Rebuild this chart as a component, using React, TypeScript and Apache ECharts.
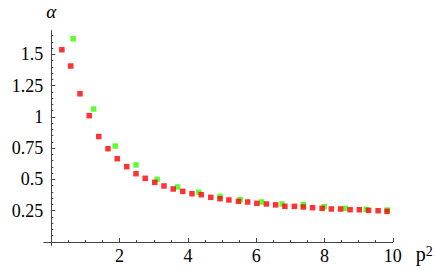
import React, { useEffect, useRef } from "react";
import * as echarts from "echarts";

const redX = [0.31, 0.57, 0.84, 1.11, 1.39, 1.66, 1.93, 2.21, 2.48, 2.75, 3.03, 3.3, 3.57, 3.85, 4.12, 4.39, 4.67, 4.94, 5.2, 5.48, 5.75, 6.02, 6.3, 6.57, 6.84, 7.12, 7.38, 7.65, 7.93, 8.2, 8.47, 8.75, 9.02, 9.29, 9.57, 9.83];
const redY = [1.537, 1.407, 1.185, 1.01, 0.843, 0.746, 0.666, 0.602, 0.546, 0.509, 0.477, 0.448, 0.424, 0.405, 0.386, 0.378, 0.357, 0.346, 0.336, 0.325, 0.32, 0.309, 0.304, 0.297, 0.285, 0.285, 0.28, 0.274, 0.269, 0.264, 0.264, 0.258, 0.258, 0.253, 0.25, 0.245];
const greenX = [0.64, 1.24, 1.87, 2.48, 3.1, 3.7, 4.32, 4.94, 5.53, 6.16, 6.76, 7.38, 7.99, 8.61, 9.22, 9.84];
const greenY = [1.625, 1.063, 0.767, 0.616, 0.501, 0.44, 0.397, 0.365, 0.338, 0.32, 0.304, 0.298, 0.282, 0.269, 0.261, 0.256];

const xTickLabels = [2, 4, 6, 8, 10];
const yTickLabels = [0.25, 0.5, 0.75, 1, 1.25, 1.5];
const yMinorTicks = [0.05, 0.1, 0.15, 0.2, 0.3, 0.35, 0.4, 0.45, 0.55, 0.6, 0.65, 0.7, 0.8, 0.85, 0.9, 0.95, 1.05, 1.1, 1.15, 1.2, 1.3, 1.35, 1.4, 1.45, 1.55, 1.6, 1.65];

const FONT = "Liberation Serif";
const AXIS_COLOR = "#444";

export default function App() {
  const ref = useRef<HTMLDivElement>(null);
  useEffect(() => {
    document.body.style.margin = "0";
    const chart = echarts.init(ref.current!, undefined, { renderer: "svg" });
    const yMax = 1.69;
    chart.setOption({
      animation: false,
      backgroundColor: "#fff",
      textStyle: { fontFamily: FONT },
      grid: [
        { left: 51.3, right: 43.2, top: 30.6, bottom: 28, outerBoundsMode: "none" },
        { left: 43.8, right: 43.2, top: 30.6, bottom: 24.2, outerBoundsMode: "none" },
      ],
      xAxis: [
        {
          type: "value",
          gridIndex: 0,
          min: 0,
          max: 10,
          interval: 2,
          axisLine: { show: false },
          axisTick: { show: true, inside: true, length: 4, lineStyle: { color: AXIS_COLOR }, customValues: xTickLabels },
          minorTick: { show: true, splitNumber: 4, length: 2, lineStyle: { color: AXIS_COLOR } },
          axisLabel: { customValues: xTickLabels, margin: 5, fontFamily: FONT, fontSize: 18, color: "#000" },
          splitLine: { show: false },
          name: "{p|p}{s|2}",
          nameLocation: "end",
          nameGap: 23,
          nameTextStyle: {
            verticalAlign: "top",
            fontFamily: FONT,
            padding: [2, 0, 0, 0],
            rich: {
              p: { fontFamily: FONT, fontSize: 20, color: "#000" },
              s: { fontFamily: FONT, fontSize: 14, color: "#000", verticalAlign: "top" },
            },
          },
        },
        {
          type: "value",
          gridIndex: 1,
          min: -0.22,
          max: 10,
          axisLine: { show: true, onZero: true, lineStyle: { color: AXIS_COLOR, width: 1 } },
          axisTick: { show: false },
          axisLabel: { show: false },
          splitLine: { show: false },
        },
      ],
      yAxis: [
        {
          type: "value",
          gridIndex: 0,
          min: 0,
          max: yMax,
          interval: 0.25,
          axisLine: { show: false },
          axisTick: { show: true, inside: true, length: 4, lineStyle: { color: AXIS_COLOR }, customValues: yTickLabels },
          axisLabel: { customValues: yTickLabels, margin: 8, fontFamily: FONT, fontSize: 18, color: "#000" },
          splitLine: { show: false },
          name: "α",
          nameLocation: "end",
          nameGap: 10,
          nameTextStyle: { fontFamily: FONT, fontSize: 19, fontStyle: "italic", color: "#000" },
        },
        {
          type: "value",
          gridIndex: 0,
          position: "left",
          min: 0,
          max: yMax,
          axisLine: { show: false },
          axisTick: { show: true, inside: true, length: 2, lineStyle: { color: AXIS_COLOR }, customValues: yMinorTicks },
          axisLabel: { show: false },
          splitLine: { show: false },
        },
        {
          type: "value",
          gridIndex: 1,
          min: -0.03,
          max: yMax,
          axisLine: { show: true, onZero: true, lineStyle: { color: AXIS_COLOR, width: 1 } },
          axisTick: { show: false },
          axisLabel: { show: false },
          splitLine: { show: false },
        },
      ],
      series: [
        {
          type: "scatter",
          xAxisIndex: 0,
          yAxisIndex: 0,
          symbol: "rect",
          symbolSize: 5.5,
          itemStyle: { color: "#33ff00" },
          data: greenX.map((x, i) => [x, greenY[i]]),
        },
        {
          type: "scatter",
          xAxisIndex: 0,
          yAxisIndex: 0,
          symbol: "rect",
          symbolSize: 5.5,
          itemStyle: { color: "#ff0000" },
          data: redX.map((x, i) => [x, redY[i]]),
        },
      ],
    });
    return () => chart.dispose();
  }, []);
  return <div ref={ref} style={{ width: 436, height: 270 }} />;
}
